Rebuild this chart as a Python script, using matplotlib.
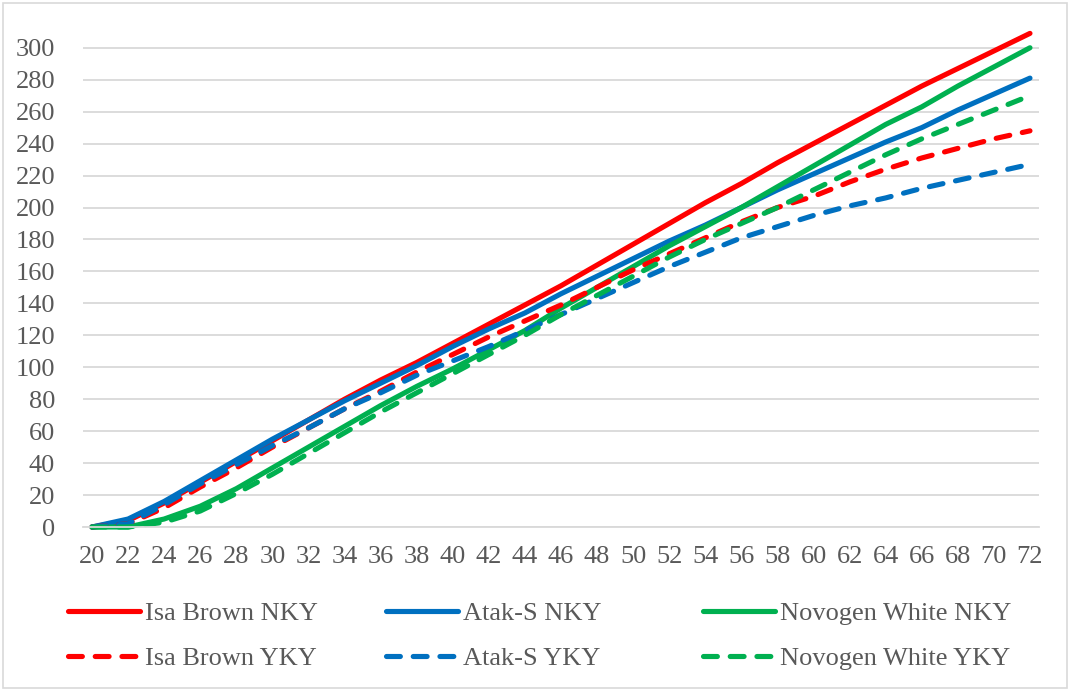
import matplotlib
matplotlib.use("Agg")
import matplotlib.pyplot as plt
from matplotlib.patches import Rectangle

# Age in weeks (categories on the x axis)
weeks = [20, 22, 24, 26, 28, 30, 32, 34, 36, 38, 40, 42, 44, 46,
         48, 50, 52, 54, 56, 58, 60, 62, 64, 66, 68, 70, 72]

# Cumulative egg yield per hen
isa_nky = [0, 4, 15, 28, 41, 54, 67, 80, 92, 103, 115, 127, 139, 151,
           164, 177, 190, 203, 215, 228, 240, 252, 264, 276, 287, 298, 309]
atak_nky = [0, 5, 16, 29, 42, 55, 67, 79, 90, 101, 113, 124, 134, 146,
            157, 168, 179, 189, 200, 211, 221, 231, 241, 250, 261, 271, 281]
nov_nky = [0, 0, 5, 13, 24, 37, 50, 63, 76, 88, 99, 111, 123, 137,
           150, 163, 176, 188, 200, 213, 226, 239, 252, 263, 276, 288, 300]
isa_yky = [0, 2, 12, 25, 37, 50, 62, 74, 85, 97, 108, 119, 129, 139,
           150, 161, 171, 181, 191, 200, 207, 216, 224, 231, 237, 243, 248]
atak_yky = [0, 2, 14, 27, 39, 51, 62, 74, 84, 95, 104, 113, 123, 133,
            143, 153, 163, 172, 181, 188, 195, 201, 206, 212, 217, 222, 227]
nov_yky = [0, 0, 3, 10, 21, 33, 46, 59, 72, 84, 96, 108, 120, 133,
           145, 157, 169, 180, 190, 200, 211, 222, 233, 243, 252, 261, 270]

labels = ["Isa Brown NKY", "Atak-S NKY", "Novogen White NKY",
          "Isa Brown YKY", "Atak-S YKY", "Novogen White YKY"]
series = [isa_nky, atak_nky, nov_nky, isa_yky, atak_yky, nov_yky]
colors = ["#ff0000", "#0070c0", "#00b050", "#ff0000", "#0070c0", "#00b050"]
dashed = [False, False, False, True, True, True]

plt.rcParams["font.family"] = ["Liberation Serif", "DejaVu Serif"]
text_color = "#595959"
grid_color = "#d9d9d9"

W, H = 1071, 691
fig = plt.figure(figsize=(W / 100, H / 100), dpi=100)

# plot area in pixels
left_px, right_px = 83, 1039
bottom_px, top_px = 527, 19
ax = fig.add_axes([left_px / W, 1 - bottom_px / H,
                   (right_px - left_px) / W, (bottom_px - top_px) / H])

handles = []
for vals, lab, col, dsh in zip(series, labels, colors, dashed):
    if dsh:
        ln, = ax.plot(weeks, vals, color=col, lw=3.7, label=lab,
                      linestyle=(0, (2.7, 2.5)), dash_capstyle="round",
                      solid_capstyle="round", clip_on=False)
    else:
        ln, = ax.plot(weeks, vals, color=col, lw=3.7, label=lab,
                      solid_capstyle="round", solid_joinstyle="round",
                      clip_on=False)
    handles.append(ln)

ax.set_xlim(19.5, 72.5)
ax.set_ylim(0, 318)
ax.set_xticks(weeks)
ax.set_xticklabels([str(w) for w in weeks])
ax.set_yticks(range(0, 301, 20))

for s in ["top", "right", "left"]:
    ax.spines[s].set_visible(False)
ax.spines["bottom"].set_color(grid_color)
ax.spines["bottom"].set_linewidth(1.3)

ax.yaxis.grid(True, color=grid_color, lw=1.3)
ax.set_axisbelow(True)
ax.tick_params(axis="both", length=0, labelsize=19, labelcolor=text_color)
ax.tick_params(axis="y", pad=20)
ax.tick_params(axis="x", pad=14)

# legend: one column per breed, NKY on top and YKY below, equal column widths
col_x_px = [68, 386, 703]
legend_center_y = 1 - 636 / H
for k, x_px in enumerate(col_x_px):
    leg = fig.legend([handles[k], handles[k + 3]], [labels[k], labels[k + 3]],
                     loc="center left", bbox_to_anchor=(x_px / W, legend_center_y),
                     frameon=False, fontsize=19, handlelength=2.73,
                     handletextpad=0.2, labelspacing=0.8,
                     borderpad=0, borderaxespad=0)
    for t in leg.get_texts():
        t.set_color(text_color)

# chart border
fig.patches.append(Rectangle((3 / W, 3 / H), 1 - 7 / W, 1 - 6 / H,
                             transform=fig.transFigure, fill=False,
                             edgecolor=grid_color, lw=1.2))

fig.savefig("out.png", dpi=100)
